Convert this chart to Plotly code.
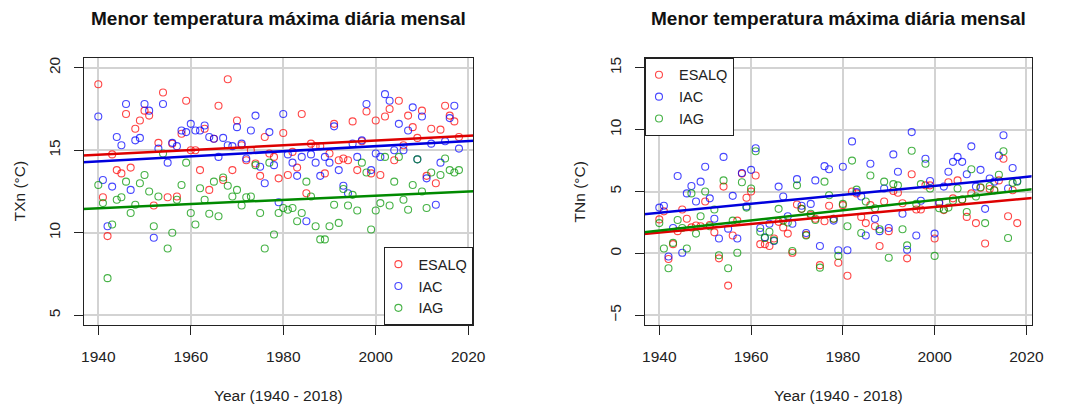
import plotly.graph_objects as go

years = list(range(1940, 2019))

# Left panel: TXn (°C)
txn_esalq = [19.0, 12.15, 9.8, 14.75, 13.8, 13.6, 17.2, 13.95, 16.3, 16.8,
             17.4, 17.1, 11.65, 15.45, 18.5, 12.15, 15.4, 12.2, 16.0, 18.0,
             15.0, 15.0, 13.8, 16.3, 12.6, 15.7, 17.7, 13.2, 19.3, 13.8,
             16.8, 15.3, 14.4, 15.0, 14.2, 13.45, 15.8, 14.8, 14.6, 13.3,
             16.05, 13.5, 14.9, 13.95, 17.2, 12.4, 15.4, 15.25, 15.25, 13.6,
             14.8, 16.6, 14.4, 14.5, 14.4, 16.75, 13.8, 15.55, 17.35, 13.6,
             16.8, 13.5, 17.05, 17.5, 14.4, 18.0, 15.3, 17.1, 16.4, 15.75,
             17.4, 13.45, 16.3, 13.0, 16.25, 17.7, 17.1, 16.75, 15.8]
txn_iac = [17.05, 13.2, 10.4, 12.8, 15.8, 15.3, 17.8, 12.6, 15.6, 15.75,
           17.8, 17.4, 9.7, 15.1, 17.8, 14.25, 15.45, 15.25, 16.2, 16.1,
           16.6, 16.2, 16.2, 16.5, 15.8, 15.7, 14.6, 15.75, 15.3, 15.25,
           16.4, 15.4, 14.5, 16.2, 17.1, 14.0, 13.0, 16.1, 14.1, 11.85,
           17.2, 14.75, 14.25, 13.45, 14.6, 10.7, 14.75, 14.25, 13.45, 14.6,
           14.25, 16.45, 13.8, 12.85, 12.4, 15.4, 14.6, 15.6, 17.8, 13.8,
           14.8, 14.6, 18.4, 18.0, 15.0, 16.6, 15.0, 16.2, 17.6, 14.45,
           17.05, 13.3, 15.4, 11.7, 14.25, 15.55, 16.95, 17.7, 15.1]
txn_iag = [12.9, 11.8, 7.25, 10.5, 12.0, 12.15, 13.1, 11.2, 11.7, 13.0,
           13.5, 12.5, 10.4, 12.2, 14.8, 9.05, 10.0, 12.0, 12.9, 14.25,
           11.2, 10.5, 12.7, 12.0, 11.15, 13.1, 11.0, 13.35, 12.85, 12.2,
           12.6, 11.65, 12.15, 12.2, 14.1, 11.2, 9.05, 14.25, 9.9, 11.2,
           11.5, 11.4, 11.5, 10.7, 11.2, 13.1, 12.2, 10.4, 9.6, 9.6,
           10.4, 11.7, 10.6, 12.65, 11.65, 12.3, 11.35, 14.25, 13.65, 10.2,
           11.35, 11.8, 14.6, 11.65, 13.1, 14.6, 12.0, 11.4, 12.9, 14.45,
           12.5, 11.5, 13.65, 8.7, 13.5, 14.5, 13.8, 13.65, 13.8]

# Right panel: TNn (°C)
tnn_esalq = [2.75, 3.4, -0.45, 0.75, 1.8, 3.55, 2.8, 2.1, 2.25, 2.2,
             4.2, 2.3, 1.7, -0.4, 5.4, -2.6, 1.45, 2.65, 6.45, 4.5,
             5.0, 6.3, 0.75, 0.75, 0.6, 1.2, 2.55, 2.1, 1.6, 0.05,
             3.95, 3.6, 1.5, 3.1, 2.8, -0.95, 2.6, 3.85, 2.8, -0.75,
             3.9, -1.8, 5.0, 4.85, 2.95, 2.45, 3.9, 2.2, 0.6, 4.2,
             1.8, 5.05, 4.9, 4.05, -0.4, 6.4, 3.55, 3.55, 5.5, 5.5,
             1.2, 4.15, 3.5, 5.75, 4.45, 5.9, 4.35, 2.95, 4.85, 2.45,
             5.3, 0.8, 5.2, 5.1, 5.9, 7.65, 3.0, 5.1, 2.45]
tnn_iac = [3.7, 3.85, -0.25, 2.05, 6.25, 0.05, 4.85, 5.45, 4.2, 5.8,
           7.0, 4.45, 2.8, 1.2, 7.8, 2.0, 4.65, 1.2, 6.5, 3.8,
           6.75, 8.5, 2.05, 1.3, 2.4, 1.0, 5.4, 4.6, 3.0, 2.4,
           6.0, 3.85, 1.65, 4.0, 5.9, 0.6, 7.05, 6.8, 2.65, 0.25,
           7.0, 0.25, 9.05, 4.95, 4.6, 1.45, 7.25, 2.8, 1.8, 5.25,
           2.05, 8.0, 6.6, 3.2, 0.3, 9.8, 1.45, 4.25, 7.65, 5.85,
           1.6, 4.05, 5.4, 6.6, 7.4, 7.8, 7.4, 6.4, 8.65, 5.4,
           6.75, 3.6, 6.05, 5.8, 7.9, 9.55, 5.25, 6.9, 5.85]
tnn_iag = [2.45, 0.4, -1.2, 0.85, 2.7, 2.05, 0.4, 4.85, 1.6, 3.0,
           5.0, 2.2, 3.55, -0.15, 5.9, -1.2, 2.65, 0.05, 5.75, 3.7,
           5.25, 8.25, 1.75, 1.25, 1.75, 1.05, 3.6, 2.65, 2.5, 0.2,
           5.5, 3.6, 1.45, 3.2, 2.7, -1.15, 5.8, 4.7, 2.8, -0.2,
           4.0, 2.2, 7.5, 5.15, 1.65, 4.2, 6.3, 3.65, 1.95, 5.8,
           -0.35, 5.6, 5.5, 1.95, 0.65, 8.3, 4.0, 5.6, 7.25, 5.25,
           -0.2, 3.65, 3.55, 3.7, 4.25, 5.25, 4.35, 3.35, 6.8, 4.6,
           5.35, 2.45, 5.45, 5.1, 6.35, 8.25, 1.25, 5.7, 5.8]

# Linear trend values at 1940 and 2018
trend_years = [1940, 2018]
txn_trend_esalq = [14.73, 15.85]
txn_trend_iac = [14.32, 15.53]
txn_trend_iag = [11.49, 12.48]
tnn_trend_esalq = [1.69, 4.37]
tnn_trend_iac = [3.29, 6.11]
tnn_trend_iag = [1.84, 5.05]

series_names = ["ESALQ", "IAC", "IAG"]
x_ticks = [1940, 1960, 1980, 2000, 2020]
txn_ticks = [5, 10, 15, 20]
tnn_ticks = [-5, 0, 5, 10, 15]

title_text = "Menor temperatura máxima diária mensal"
x_title = "Year (1940 - 2018)"

pt_colors = ["rgba(255,0,0,0.72)", "rgba(0,0,255,0.72)", "rgba(0,150,0,0.72)"]
ln_colors = ["#dd0000", "#0000dd", "#008a00"]

W, H = 1083, 407
XR = [1936.88, 2021.12]


def extend(ty, tv):
    slope = (tv[1] - tv[0]) / (ty[1] - ty[0])
    xs = [XR[0] - 1, XR[1] + 1]
    return xs, [tv[0] + slope * (x - ty[0]) for x in xs]


fig = go.Figure()

panels = [
    ("x", "y", "legend", [txn_esalq, txn_iac, txn_iag],
     [txn_trend_esalq, txn_trend_iac, txn_trend_iag]),
    ("x2", "y2", "legend2", [tnn_esalq, tnn_iac, tnn_iag],
     [tnn_trend_esalq, tnn_trend_iac, tnn_trend_iag]),
]

for xa, ya, lg, vals, trends in panels:
    for i, name in enumerate(series_names):
        fig.add_trace(go.Scatter(
            x=years, y=vals[i], mode="markers", name=name,
            xaxis=xa, yaxis=ya, legend=lg, showlegend=True,
            marker=dict(symbol="circle-open", size=7, color=pt_colors[i],
                        line=dict(width=1.1, color=pt_colors[i])),
            cliponaxis=True,
        ))
    for i, name in enumerate(series_names):
        lx, lyv = extend(trend_years, trends[i])
        fig.add_trace(go.Scatter(
            x=lx, y=lyv, mode="lines", xaxis=xa, yaxis=ya,
            showlegend=False, hoverinfo="skip",
            line=dict(color=ln_colors[i], width=2.5),
        ))

font_family = "Liberation Sans, Arial, sans-serif"

axis_common = dict(
    showline=True, linecolor="#222", linewidth=1, mirror=True,
    ticks="outside", ticklen=9, tickwidth=1, tickcolor="#222",
    showgrid=True, gridcolor="#d3d3d3", gridwidth=1.6,
    zeroline=False,
    tickfont=dict(family=font_family, size=15.5, color="#222"),
)

ybot = 1 - 325 / H
ytop = 1 - 57 / H

legend_common = dict(
    bgcolor="white", bordercolor="#222", borderwidth=1,
    font=dict(family=font_family, size=14.5, color="#222"),
    itemwidth=30, tracegroupgap=0, indentation=-7,
)

fig.update_layout(
    width=W, height=H,
    margin=dict(l=0, r=0, t=0, b=0),
    paper_bgcolor="white", plot_bgcolor="white",
    font=dict(family=font_family, color="#222"),
    xaxis=dict(domain=[82 / W, 477 / W], range=XR, tickvals=x_ticks,
               anchor="y", ticklabelstandoff=8, **axis_common),
    yaxis=dict(domain=[ybot, ytop], range=[4.4, 20.6], tickvals=txn_ticks,
               anchor="x", tickangle=-90, ticklabelstandoff=8, **axis_common),
    xaxis2=dict(domain=[651 / W, 1043 / W], range=XR, tickvals=x_ticks,
                anchor="y2", ticklabelstandoff=8, **axis_common),
    yaxis2=dict(domain=[ybot, ytop], range=[-5.8, 15.8], tickvals=tnn_ticks,
                anchor="x2", tickangle=-90, ticklabelstandoff=8, **axis_common),
    legend=dict(x=477 / W, xanchor="right", y=ybot, yanchor="bottom",
                **legend_common),
    legend2=dict(x=651 / W, xanchor="left", y=ytop, yanchor="top",
                 **legend_common),
    showlegend=True,
)

ann = []
for cx in [(82 + 477) / 2 / W, (651 + 1043) / 2 / W]:
    ann.append(dict(text="<b>" + title_text + "</b>", x=cx, y=1 - 18 / H,
                    xref="paper", yref="paper", xanchor="center",
                    yanchor="middle", showarrow=False,
                    font=dict(family=font_family, size=19, color="#111")))
    ann.append(dict(text=x_title, x=cx, y=1 - 395 / H, xref="paper",
                    yref="paper", xanchor="center", yanchor="middle",
                    showarrow=False,
                    font=dict(family=font_family, size=15.5, color="#222")))
for cx, label in [(17 / W, "TXn (°C)"), (585 / W, "TNn (°C)")]:
    ann.append(dict(text=label, x=cx, y=1 - 191 / H, xref="paper",
                    yref="paper", xanchor="center", yanchor="middle",
                    textangle=-90, showarrow=False,
                    font=dict(family=font_family, size=15.5, color="#222")))
fig.update_layout(annotations=ann)

fig.write_html("out.html")
